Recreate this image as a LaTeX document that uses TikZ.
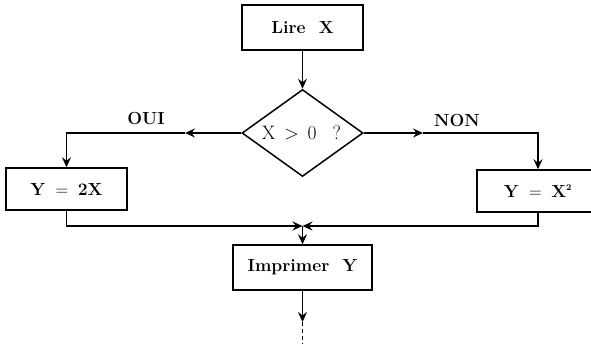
\RequirePackage{fix-cm}
\documentclass[tikz,border=0pt]{standalone}
\usetikzlibrary{shapes.geometric,arrows.meta}
\begin{document}
\begin{tikzpicture}[x=1pt,y=-1pt,
  line width=1.5pt,
  >={Stealth[length=10pt,width=9pt,inset=3.5pt]},
  box/.style={draw,rectangle,inner sep=0pt,font=\fontsize{17.5}{20}\selectfont\bfseries},
  lbl/.style={font=\fontsize{17.5}{20}\selectfont\bfseries,inner sep=0pt}]
\useasboundingbox (0,0) rectangle (591,346);
\node[box,minimum width=121pt,minimum height=45pt] (lire) at (302.5,27.5) {Lire\ \ X};
\node[draw,diamond,inner sep=0pt,minimum width=121pt,minimum height=87pt] (diam) at (302.5,133) {};
\node[inner sep=0pt,font=\fontsize{19.5}{22}\selectfont] (dq) at (301.5,133) {$\mathrm{X}\mathrel{\,>\,}0$\hspace{16pt}?};
\node[box,minimum width=121pt,minimum height=42pt] (y2x) at (66.5,189) {$\mathbf{Y\;=\;2X}$};
\node[box,minimum width=122pt,minimum height=42pt] (yx2) at (538,191) {$\mathbf{Y\;=\;X^{\scriptscriptstyle 2}}$};
\node[box,minimum width=139pt,minimum height=45pt] (imp) at (302.5,267.5) {Imprimer\ \ Y};
\node[lbl] (oui) at (146,118) {OUI};
\node[lbl] (non) at (457,120) {NON};
\coordinate (oa) at (185,133);
\coordinate (na) at (423,133);
\coordinate (m) at (302.5,226);
\coordinate (e1) at (302.5,322);
\coordinate (e2) at (302.5,344);
\draw[->] (lire) -- (diam.north);
\draw[->] (diam.west) -- (oa);
\draw[->] (oa) -| (y2x.north);
\draw[->] (diam.east) -- (na);
\draw[->] (na) -| (yx2.north);
\draw[->] (y2x.south) |- (m);
\draw[->] (yx2.south) |- (m);
\draw[->] (m) -- (imp.north);
\draw[->] (imp.south) -- (e1);
\draw[dashed,dash pattern=on 4pt off 3pt] (e1) -- (e2);
\end{tikzpicture}
\end{document}
